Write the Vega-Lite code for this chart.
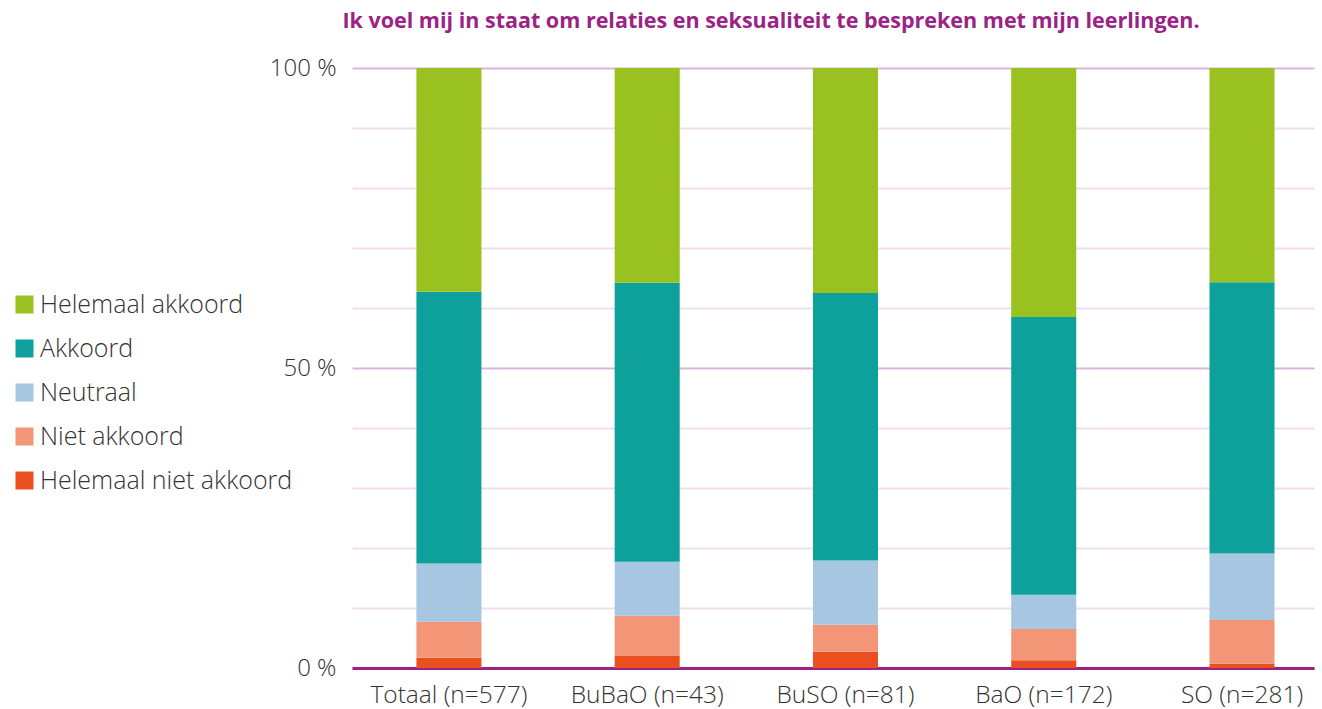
{
  "$schema": "https://vega.github.io/schema/vega-lite/v6.json",
  "width": 962,
  "height": 600,
  "autosize": {"type": "none"},
  "padding": {"left": 352, "top": 68, "right": 8, "bottom": 41},
  "background": "white",
  "title": {
    "text": "Ik voel mij in staat om relaties en seksualiteit te bespreken met mijn leerlingen.",
    "font": "Open Sans",
    "fontSize": 21.5,
    "fontWeight": "bold",
    "color": "#9b2385",
    "anchor": "middle",
    "dx": -62,
    "offset": 24
  },
  "data": {
    "values": [
      {"groep": "Totaal (n=577)", "antwoord": "Helemaal niet akkoord", "pct": 1.7, "rang": 1},
      {"groep": "Totaal (n=577)", "antwoord": "Niet akkoord", "pct": 6.0, "rang": 2},
      {"groep": "Totaal (n=577)", "antwoord": "Neutraal", "pct": 9.7, "rang": 3},
      {"groep": "Totaal (n=577)", "antwoord": "Akkoord", "pct": 45.3, "rang": 4},
      {"groep": "Totaal (n=577)", "antwoord": "Helemaal akkoord", "pct": 37.3, "rang": 5},
      {"groep": "BuBaO (n=43)", "antwoord": "Helemaal niet akkoord", "pct": 2.0, "rang": 1},
      {"groep": "BuBaO (n=43)", "antwoord": "Niet akkoord", "pct": 6.7, "rang": 2},
      {"groep": "BuBaO (n=43)", "antwoord": "Neutraal", "pct": 9.0, "rang": 3},
      {"groep": "BuBaO (n=43)", "antwoord": "Akkoord", "pct": 46.5, "rang": 4},
      {"groep": "BuBaO (n=43)", "antwoord": "Helemaal akkoord", "pct": 35.8, "rang": 5},
      {"groep": "BuSO (n=81)", "antwoord": "Helemaal niet akkoord", "pct": 2.7, "rang": 1},
      {"groep": "BuSO (n=81)", "antwoord": "Niet akkoord", "pct": 4.5, "rang": 2},
      {"groep": "BuSO (n=81)", "antwoord": "Neutraal", "pct": 10.7, "rang": 3},
      {"groep": "BuSO (n=81)", "antwoord": "Akkoord", "pct": 44.6, "rang": 4},
      {"groep": "BuSO (n=81)", "antwoord": "Helemaal akkoord", "pct": 37.5, "rang": 5},
      {"groep": "BaO (n=172)", "antwoord": "Helemaal niet akkoord", "pct": 1.3, "rang": 1},
      {"groep": "BaO (n=172)", "antwoord": "Niet akkoord", "pct": 5.2, "rang": 2},
      {"groep": "BaO (n=172)", "antwoord": "Neutraal", "pct": 5.7, "rang": 3},
      {"groep": "BaO (n=172)", "antwoord": "Akkoord", "pct": 46.3, "rang": 4},
      {"groep": "BaO (n=172)", "antwoord": "Helemaal akkoord", "pct": 41.5, "rang": 5},
      {"groep": "SO (n=281)", "antwoord": "Helemaal niet akkoord", "pct": 0.7, "rang": 1},
      {"groep": "SO (n=281)", "antwoord": "Niet akkoord", "pct": 7.3, "rang": 2},
      {"groep": "SO (n=281)", "antwoord": "Neutraal", "pct": 11.1, "rang": 3},
      {"groep": "SO (n=281)", "antwoord": "Akkoord", "pct": 45.2, "rang": 4},
      {"groep": "SO (n=281)", "antwoord": "Helemaal akkoord", "pct": 35.7, "rang": 5}
    ]
  },
  "mark": {"type": "bar"},
  "encoding": {
    "x": {
      "field": "groep",
      "type": "nominal",
      "sort": ["Totaal (n=577)", "BuBaO (n=43)", "BuSO (n=81)", "BaO (n=172)", "SO (n=281)"],
      "scale": {"paddingInner": 0.672, "paddingOuter": 0.262, "align": 0.62},
      "axis": {
        "title": null,
        "labelAngle": 0,
        "labelFont": "Open Sans",
        "labelFontSize": 24.5,
        "labelFontWeight": 300,
        "labelColor": "#333333",
        "labelPadding": 15,
        "labelLimit": 300,
        "ticks": false,
        "domain": true,
        "domainColor": "#9b2385",
        "domainWidth": 3,
        "grid": false
      }
    },
    "y": {
      "field": "pct",
      "type": "quantitative",
      "stack": "zero",
      "scale": {"domain": [0, 100], "nice": false},
      "axis": {
        "title": null,
        "values": [0, 10, 20, 30, 40, 50, 60, 70, 80, 90, 100],
        "labelExpr": "datum.value % 50 === 0 ? datum.value + ' %' : ''",
        "labelFont": "Open Sans",
        "labelFontSize": 24,
        "labelFontWeight": 300,
        "labelColor": "#333333",
        "labelPadding": 16,
        "ticks": false,
        "domain": false,
        "grid": true,
        "gridWidth": 2,
        "gridColor": {"condition": {"test": "datum.value % 50 === 0", "value": "#dcb5da"}, "value": "#f1ddf0"}
      }
    },
    "color": {
      "field": "antwoord",
      "type": "nominal",
      "scale": {
        "domain": ["Helemaal akkoord", "Akkoord", "Neutraal", "Niet akkoord", "Helemaal niet akkoord"],
        "range": ["#99c11f", "#0ea19c", "#a6c6e2", "#f29677", "#e94f1f"]
      },
      "legend": {
        "title": null,
        "orient": "none",
        "legendX": -340,
        "legendY": 224,
        "symbolType": "square",
        "symbolSize": 324,
        "symbolStrokeWidth": 0,
        "labelFont": "Open Sans",
        "labelFontSize": 25,
        "labelFontWeight": 300,
        "labelColor": "#333333",
        "labelOffset": 3,
        "rowPadding": 18,
        "labelLimit": 400
      }
    },
    "order": {"field": "rang", "type": "quantitative"}
  },
  "config": {
    "view": {"stroke": null}
  }
}
